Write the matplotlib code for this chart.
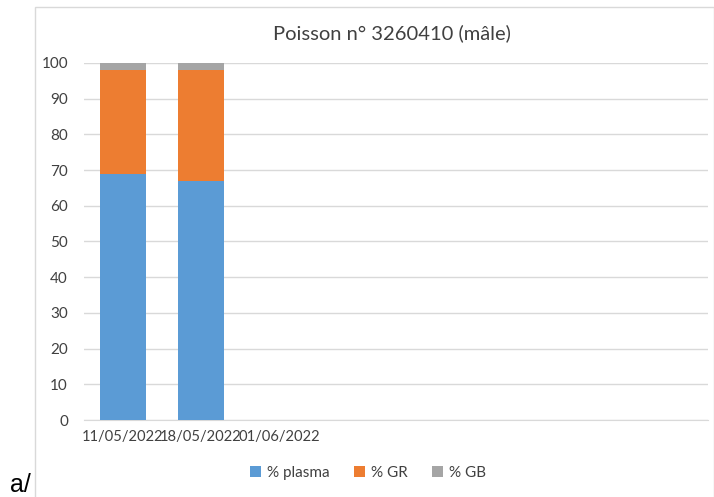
import matplotlib.pyplot as plt
import numpy as np
from matplotlib.patches import Rectangle

# Sampling dates (the chart keeps 8 category slots, only 3 are labelled)
dates = ["11/05/2022", "18/05/2022", "01/06/2022", "", "", "", "", ""]
plasma = [69, 67, 0, 0, 0, 0, 0, 0]
gr = [29, 31, 0, 0, 0, 0, 0, 0]
gb = [2, 2, 0, 0, 0, 0, 0, 0]

series_names = ["% plasma", "% GR", "% GB"]
colors = ["#5B9BD5", "#ED7D31", "#A5A5A5"]

plt.rcParams["font.family"] = ["Lato", "DejaVu Sans"]

fig = plt.figure(figsize=(7.14, 4.97), dpi=100)
ax = fig.add_axes([84 / 714, 77 / 497, 624 / 714, 357 / 497])

x = np.arange(len(dates))
width = 0.58
bottom = np.zeros(len(dates))
for name, vals, col in zip(series_names, [plasma, gr, gb], colors):
    ax.bar(x, vals, width, bottom=bottom, color=col, label=name, zorder=3)
    bottom += np.array(vals)

ax.set_xlim(-0.5, len(dates) - 0.5)
ax.set_ylim(0, 100)
ax.set_yticks(range(0, 101, 10))
ax.set_xticks(x)
ax.set_xticklabels(dates, fontsize=10.6, color="#404040")
ax.tick_params(axis="y", labelsize=11, colors="#404040", length=0, pad=11.5)
ax.tick_params(axis="x", length=0, pad=7)
ax.grid(axis="y", color="#d9d9d9", linewidth=1, zorder=0)
for side in ["top", "right", "left"]:
    ax.spines[side].set_visible(False)
ax.spines["bottom"].set_color("#d9d9d9")

fig.text(392 / 714, 1 - 33 / 497, "Poisson n° 3260410 (mâle)",
         ha="center", va="center", fontsize=14.5, color="#404040")

fig.legend(loc="center", bbox_to_anchor=(368 / 714, 1 - 473 / 497), ncol=3,
           frameon=False, fontsize=11, handlelength=0.7, handleheight=0.7,
           handletextpad=0.4, columnspacing=1.6, labelcolor="#404040")

# chart frame
fig.patches.append(Rectangle((34.5 / 714, -0.1), (713.5 - 34.5) / 714, 1.1 - 7 / 497,
                             transform=fig.transFigure, fill=False,
                             edgecolor="#d9d9d9", linewidth=1))

fig.text(10 / 714, 5 / 497, "a/", fontsize=18, family="Liberation Sans",
         ha="left", va="baseline", color="black")

fig.savefig("out.png", dpi=100)
